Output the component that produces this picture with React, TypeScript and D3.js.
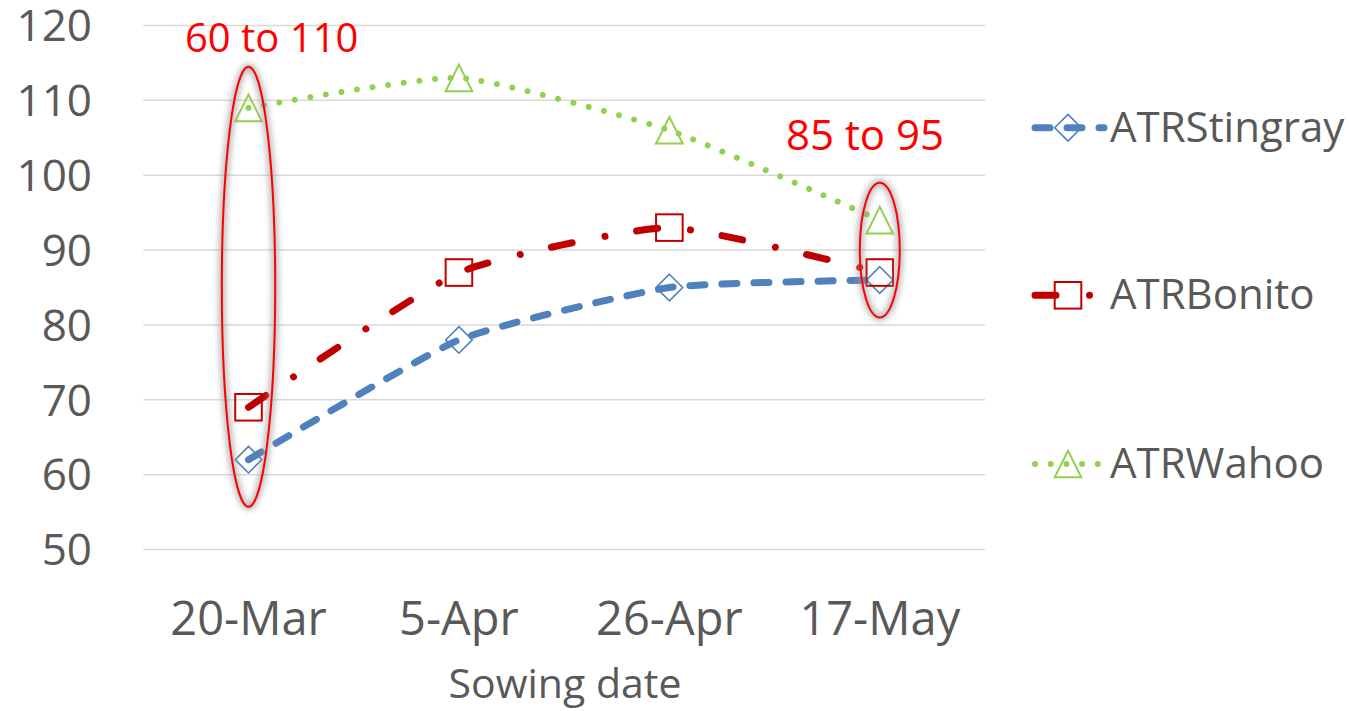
import React from "react";
import * as d3 from "d3";

const categories = ["20-Mar", "5-Apr", "26-Apr", "17-May"];
const stingray = [62, 78, 85, 86];
const bonito = [69, 87, 93, 87];
const wahoo = [109, 113, 106, 94];
const yTicks = [50, 60, 70, 80, 90, 100, 110, 120];
const seriesNames = ["ATRStingray", "ATRBonito", "ATRWahoo"];
const annotationLabels = ["60 to 110", "85 to 95"];
const annotationCats = ["20-Mar", "17-May"];
const annotationRanges: [number, number][] = [[55.7, 114.5], [81.0, 99.0]];

const W = 1349;
const H = 711;
const FONT = "'Open Sans', 'Noto Sans', sans-serif";
const GRAY = "#595959";

export default function App() {
  const x = d3.scalePoint<string>().domain(categories).range([143.3, 985]).padding(0.5);
  const y = d3.scaleLinear().domain([50, 120]).range([549.5, 25.5]);
  const line = d3
    .line<number>()
    .x((_, i) => x(categories[i]) as number)
    .y((d) => y(d))
    .curve(d3.curveCardinal.tension(0.5));

  const series = [
    { name: seriesNames[0], data: stingray, color: "#4F81BD", width: 7, dash: "15 17", marker: "diamond" },
    { name: seriesNames[1], data: bonito, color: "#C00000", width: 7, dash: "21 33.5 0.01 32", marker: "square" },
    { name: seriesNames[2], data: wahoo, color: "#92D050", width: 6, dash: "0.01 15.7", marker: "triangle" },
  ];

  const marker = (type: string, cx: number, cy: number, color: string, key: string) => {
    const s = 13.3;
    if (type === "diamond")
      return (
        <path key={key} d={`M${cx},${cy - s}L${cx + s},${cy}L${cx},${cy + s}L${cx - s},${cy}Z`} fill="none" stroke={color} strokeWidth={1.6} />
      );
    if (type === "square")
      return <rect key={key} x={cx - s} y={cy - s} width={2 * s} height={2 * s} fill="none" stroke="#C00000" strokeWidth={2} />;
    return (
      <path key={key} d={`M${cx},${cy - s}L${cx + s},${cy + s}L${cx - s},${cy + s}Z`} fill="none" stroke={color} strokeWidth={2} />
    );
  };

  const legendY = [127.7, 295.3, 464];
  const plotLeft = 143.3;
  const plotRight = 985;
  const ellipseRx = [26.7, 20];
  const annotationPos = [
    { x: 271.7, y: 51.7, size: 40 },
    { x: 865, y: 150, size: 42 },
  ];

  return (
    <div style={{ position: "absolute", left: 0, top: 0 }}>
      <svg width={W} height={H} style={{ display: "block", background: "#fff" }}>
        <defs>
          <filter id="glow" x="-50%" y="-20%" width="200%" height="140%">
            <feGaussianBlur stdDeviation="3" />
          </filter>
        </defs>
        {yTicks.map((t) => (
          <g key={t}>
            <line x1={plotLeft} x2={plotRight} y1={y(t)} y2={y(t)} stroke="#d9d9d9" strokeWidth={1.5} />
            <text x={92} y={y(t)} dy="0.36em" textAnchor="end" fontFamily={FONT} fontSize={44} fill={GRAY}>
              {t}
            </text>
          </g>
        ))}
        {categories.map((c) => (
          <text key={c} x={x(c)} y={635} textAnchor="middle" fontFamily={FONT} fontSize={47} fill={GRAY}>
            {c}
          </text>
        ))}
        <text x={565} y={698} textAnchor="middle" fontFamily={FONT} fontSize={41} fill={GRAY}>
          Sowing date
        </text>
        {series.map((s) => (
          <g key={s.name}>
            <path d={line(s.data) || ""} fill="none" stroke={s.color} strokeWidth={s.width} strokeDasharray={s.dash} strokeLinecap="round" />
            {s.data.map((v, i) => marker(s.marker, x(categories[i]) as number, y(v), s.color, s.name + i))}
          </g>
        ))}
        {annotationCats.map((c, i) => {
          const [lo, hi] = annotationRanges[i];
          const cy = (y(lo) + y(hi)) / 2;
          const ry = (y(lo) - y(hi)) / 2;
          const cx = x(c) as number;
          return (
            <g key={c}>
              <ellipse cx={cx} cy={cy} rx={ellipseRx[i]} ry={ry} fill="none" stroke="#9a9a9a" strokeWidth={6} filter="url(#glow)" opacity={0.8} />
              <ellipse cx={cx} cy={cy} rx={ellipseRx[i]} ry={ry} fill="none" stroke="#FF0000" strokeWidth={2} />
              <text x={annotationPos[i].x} y={annotationPos[i].y} textAnchor="middle" fontFamily={FONT} fontSize={annotationPos[i].size} fill="#FF0000">
                {annotationLabels[i]}
              </text>
            </g>
          );
        })}
        {series.map((s, i) => (
          <g key={"lg" + s.name}>
            <line x1={1035} x2={1104} y1={legendY[i]} y2={legendY[i]} stroke={s.color} strokeWidth={s.width} strokeDasharray={s.dash} strokeLinecap="round" />
            {marker(s.marker, 1068, legendY[i], s.color, "lm" + i)}
            <text x={1110} y={legendY[i] + 14} fontFamily={FONT} fontSize={42} fill={GRAY}>
              {s.name}
            </text>
          </g>
        ))}
      </svg>
    </div>
  );
}
